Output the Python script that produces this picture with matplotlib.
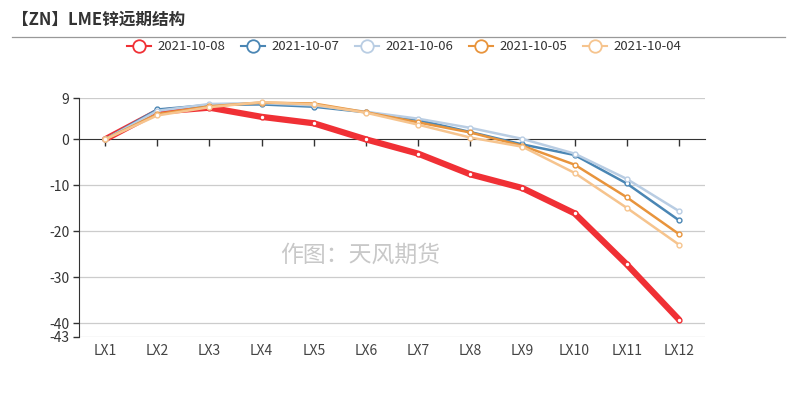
import matplotlib
matplotlib.use('Agg')
from matplotlib import pyplot as plt
from matplotlib.lines import Line2D

plt.rcParams['font.family'] = ['Noto Sans CJK SC', 'DejaVu Sans']

categories = ['LX1', 'LX2', 'LX3', 'LX4', 'LX5', 'LX6', 'LX7', 'LX8', 'LX9', 'LX10', 'LX11', 'LX12']
dates = ['2021-10-08', '2021-10-07', '2021-10-06', '2021-10-05', '2021-10-04']
d1008 = [0, 6.0, 6.9, 4.9, 3.5, 0, -3.1, -7.6, -10.6, -16.1, -27.2, -39.2]
d1007 = [0, 6.5, 7.5, 7.6, 7.1, 5.9, 4.2, 1.6, -1.1, -3.4, -9.6, -17.6]
d1006 = [0, 6.2, 7.7, 7.9, 7.4, 6.0, 4.5, 2.5, 0.1, -3.1, -8.6, -15.6]
d1005 = [0, 5.5, 7.2, 8.0, 7.8, 5.9, 3.7, 1.5, -1.4, -5.5, -12.6, -20.6]
d1004 = [0, 5.2, 7.0, 8.1, 7.6, 5.8, 3.2, 0.4, -1.6, -7.3, -14.9, -22.9]
yticks = [9, 0, -10, -20, -30, -40, -43]

series = [d1008, d1007, d1006, d1005, d1004]
colors = ['#f03035', '#4a86b4', '#b9cde3', '#e8943c', '#f6c48e']
widths = [4.5, 1.8, 1.8, 1.8, 1.8]

fig = plt.figure(figsize=(7.87, 3.95), dpi=100)
ax = fig.add_axes([79/787, 1-337/395, 626/787, 239/395])

x = list(range(len(categories)))
# series order, later ones on top
for i in range(len(series)):
    ax.plot(x, series[i], color=colors[i], lw=widths[i], marker='o', ms=3.5,
            mfc='white', mec=colors[i], mew=1.0, zorder=3 + i,
            solid_capstyle='round')

ax.set_xlim(-0.5, len(categories) - 0.5)
ax.set_ylim(-43, 9)
ax.set_yticks(yticks)
ax.set_yticklabels([str(v) for v in yticks], fontsize=10, color='#333333')
for v in yticks:
    if v != 0:
        ax.axhline(v, color='#cccccc', lw=0.9, zorder=1)

ax.spines['top'].set_visible(False)
ax.spines['right'].set_visible(False)
ax.spines['left'].set_color('#333333')
ax.spines['bottom'].set_position(('data', 0))
ax.spines['bottom'].set_color('#333333')
ax.tick_params(axis='y', length=4, width=1, color='#333333', pad=3)
ax.set_xticks(x)
ax.set_xticklabels([])
ax.tick_params(axis='x', length=5, width=1, color='#333333', direction='out')
for i, c in enumerate(categories):
    ax.text(i, -0.06, c, transform=ax.get_xaxis_transform(), ha='center', va='center',
            fontsize=10, color='#444444')

# watermark
fig.text(360/787, 1-255/395, '作图：天风期货', fontsize=16.5, color='#c8c8c8',
         ha='center', va='center')

# title and separator
fig.text(12/787, 1-20/395, '【ZN】LME锌远期结构', fontsize=12, fontweight='bold',
         color='#333333', ha='left', va='center')
fig.add_artist(Line2D([12/787, 785/787], [1-37/395, 1-37/395], color='#999999', lw=0.9))

handles = [Line2D([], [], color=colors[i], lw=1.5, marker='o', ms=9, mfc='white',
                  mec=colors[i], mew=1.3) for i in range(5)]
fig.legend(handles, dates, loc='center', bbox_to_anchor=(404/787, 1-47/395), ncol=5,
           frameon=False, fontsize=9.5, handlelength=1.8, handletextpad=0.5,
           columnspacing=1.2, labelcolor='#333333')

fig.savefig('out.png', dpi=100)
